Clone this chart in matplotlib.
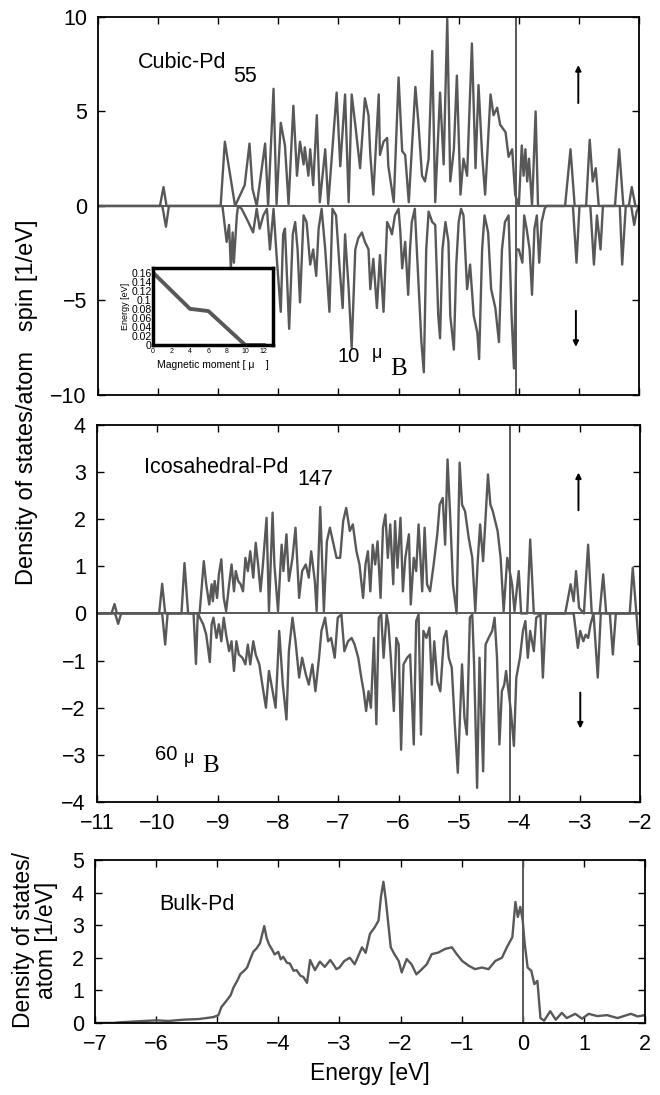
import matplotlib
matplotlib.use("Agg")
import matplotlib.pyplot as plt

plt.rcParams['font.family'] = ['Liberation Sans', 'DejaVu Sans']

# ---- cubic Pd55, spin up / spin down (energy in eV, DOS in 1/eV) ----
cub_up_e = [-11.0, -9.97, -9.91, -9.86, -8.96, -8.89, -8.81, -8.72, -8.56, -8.48, -8.43, -8.36,
            -8.22, -8.17, -8.08, -8.03, -7.96, -7.89, -7.83, -7.75, -7.69, -7.64, -7.58, -7.56,
            -7.50, -7.47, -7.42, -7.36, -7.31, -7.22, -7.17, -7.03, -6.97, -6.89, -6.83, -6.78,
            -6.72, -6.64, -6.56, -6.50, -6.47, -6.42, -6.33, -6.31, -6.25, -6.19, -6.17, -6.08,
            -6.00, -5.94, -5.89, -5.83, -5.72, -5.67, -5.61, -5.56, -5.50, -5.44, -5.39, -5.31,
            -5.25, -5.19, -5.14, -5.08, -5.03, -4.97, -4.92, -4.86, -4.78, -4.72, -4.67, -4.61,
            -4.56, -4.47, -4.42, -4.36, -4.31, -4.22, -4.17, -4.11, -4.06, -4.00, -3.95, -3.92,
            -3.89, -3.86, -3.83, -3.78, -3.76, -3.72, -3.68, -3.23, -3.14, -3.07, -2.88, -2.82,
            -2.77, -2.72, -2.67, -2.40, -2.33, -2.26, -2.17, -2.12, -2.06, -2.0]
cub_up_v = [0, 0, 1.0, 0, 0, 3.4, 1.8, 0, 1.1, 3.3, 0.9, 0,
            3.3, 0, 6.2, 0.1, 4.4, 3.2, 0.1, 5.3, 1.6, 3.4, 2.2, 3.1,
            1.6, 3.0, 1.1, 4.8, 0.2, 3.0, 0.1, 6.0, 2.1, 5.9, 0.2, 5.9,
            4.3, 2.0, 5.7, 4.8, 2.7, 0.6, 5.9, 2.7, 3.4, 3.6, 2.1, 0.2,
            6.8, 2.9, 2.7, 0.2, 6.3, 4.4, 1.6, 1.3, 2.5, 8.2, 0.2, 6.0,
            2.2, 9.9, 1.3, 3.0, 6.9, 0.6, 2.5, 1.6, 8.6, 2.0, 6.4, 2.7,
            0.6, 5.9, 4.8, 5.2, 4.3, 3.9, 2.6, 3.0, 0.6, 0.0, 3.2, 1.6,
            3.0, 1.3, 2.5, 0.0, 1.6, 5.0, 0.0, 0.0, 3.0, 0.0, 0.0, 3.5,
            1.3, 2.0, 0.0, 0.0, 3.0, 0.0, 0.0, 1.0, 0.0, 0.0]
cub_dn_e = [-11.0, -9.93, -9.87, -9.82, -8.93, -8.86, -8.82, -8.79, -8.76, -8.74, -8.69, -8.67,
            -8.61, -8.50, -8.42, -8.36, -8.31, -8.25, -8.19, -8.14, -8.08, -8.03, -7.96, -7.92,
            -7.89, -7.82, -7.76, -7.72, -7.68, -7.64, -7.58, -7.53, -7.47, -7.42, -7.37, -7.33,
            -7.28, -7.22, -7.15, -7.10, -7.04, -6.98, -6.93, -6.89, -6.83, -6.78, -6.72, -6.67,
            -6.61, -6.56, -6.50, -6.47, -6.42, -6.36, -6.31, -6.25, -6.19, -6.14, -6.11, -6.06,
            -6.00, -5.97, -5.94, -5.89, -5.84, -5.81, -5.78, -5.73, -5.67, -5.62, -5.58, -5.54,
            -5.50, -5.44, -5.39, -5.34, -5.31, -5.27, -5.22, -5.17, -5.14, -5.08, -5.04, -5.00,
            -4.96, -4.92, -4.86, -4.81, -4.75, -4.69, -4.66, -4.61, -4.57, -4.51, -4.46, -4.39,
            -4.33, -4.28, -4.23, -4.17, -4.12, -4.08, -4.04, -4.00, -3.94, -3.91, -3.87, -3.82,
            -3.78, -3.74, -3.70, -3.66, -3.62, -3.57, -3.54, -3.10, -3.04, -2.99, -2.81, -2.75,
            -2.70, -2.64, -2.60, -2.32, -2.28, -2.22, -2.13, -2.08, -2.04, -2.0]
cub_dn_v = [0, 0, -1.1, 0, 0, -1.9, -1.0, -3.3, -1.4, -3.0, -0.5, 0,
            -0.15, -0.85, -1.4, -0.15, -1.2, -0.5, -0.15, -2.3, -0.15, -2.6, -5.6, -1.5,
            -1.2, -6.5, -1.5, -0.85, -2.3, -5.1, -0.5, -0.85, -3.1, -2.3, -3.7, -1.2,
            -0.15, -2.3, -5.6, -0.15, -0.5, -3.3, -5.4, -1.5, -4.4, -7.5, -2.3, -1.7,
            -1.4, -1.9, -2.3, -4.4, -2.8, -5.4, -2.6, -5.6, -0.85, -1.2, -1.5, -0.5,
            -0.15, -1.4, -3.3, -1.9, -4.7, -2.3, -0.85, -0.15, -4.0, -7.2, -8.8, -2.3,
            -0.3, -0.85, -1.0, -5.8, -7.0, -2.3, -0.85, -1.9, -5.8, -7.6, -3.1, -0.85,
            -0.15, -0.5, -4.4, -3.1, -5.8, -6.7, -8.1, -2.3, -0.5, -1.4, -4.4, -5.4,
            -7.2, -2.3, -0.85, -0.5, -5.8, -8.6, -2.3, -2.3, -3.0, -0.5, -1.2, -2.3,
            -4.7, -1.2, -0.5, -3.0, -0.85, -0.15, 0, 0, -3.0, 0, 0, -3.1,
            -0.5, -2.3, 0, 0, -3.1, 0, 0, -1.0, -0.3, 0]

# ---- icosahedral Pd147 ----
ico_up_e = [-11.0, -10.76, -10.71, -10.67, -9.97, -9.92, -9.87, -9.60, -9.55, -9.49, -9.30, -9.23,
            -9.19, -9.14, -9.10, -9.08, -9.05, -9.01, -8.98, -8.94, -8.90, -8.86, -8.81, -8.77,
            -8.73, -8.70, -8.66, -8.62, -8.58, -8.54, -8.50, -8.46, -8.41, -8.37, -8.33, -8.29,
            -8.25, -8.19, -8.15, -8.09, -8.06, -8.00, -7.94, -7.91, -7.86, -7.82, -7.76, -7.71,
            -7.65, -7.60, -7.54, -7.49, -7.45, -7.39, -7.36, -7.30, -7.24, -7.19, -7.14, -7.09,
            -7.03, -6.97, -6.92, -6.87, -6.81, -6.76, -6.70, -6.65, -6.59, -6.55, -6.51, -6.47,
            -6.43, -6.39, -6.35, -6.30, -6.26, -6.22, -6.18, -6.14, -6.09, -6.06, -6.02, -5.97,
            -5.93, -5.89, -5.83, -5.80, -5.75, -5.71, -5.67, -5.61, -5.57, -5.53, -5.48, -5.42,
            -5.36, -5.32, -5.27, -5.23, -5.19, -5.14, -5.10, -5.04, -4.99, -4.95, -4.90, -4.84,
            -4.78, -4.73, -4.69, -4.65, -4.60, -4.56, -4.52, -4.48, -4.44, -4.40, -4.36, -4.31,
            -4.26, -4.20, -4.16, -4.12, -4.08, -4.01, -3.97, -3.87, -3.82, -3.76, -3.24, -3.15,
            -3.10, -3.06, -3.01, -2.93, -2.86, -2.80, -2.67, -2.61, -2.56, -2.17, -2.12, -2.06,
            -2.0]
ico_up_v = [0, 0, 0.20, 0, 0, 0.63, 0, 0, 1.07, 0, 0, 1.11,
            0.62, 0.19, 0.62, 0.26, 0.69, 0.33, 0.83, 1.15, 0.33, 0.05, 0.62, 1.04,
            0.47, 0.90, 0.69, 0.62, 0.47, 1.18, 0.90, 1.32, 0.76, 1.50, 1.04, 0.47,
            1.04, 2.03, 0.05, 2.14, 1.04, 0.05, 1.46, 0.90, 1.68, 0.69, 1.18, 1.82,
            0.33, 0.90, 1.04, 0.76, 1.32, 0.69, 0.05, 2.26, 0.05, 1.53, 1.82, 1.53,
            1.18, 1.18, 1.96, 2.24, 1.75, 1.89, 1.32, 1.04, 0.33, 1.04, 1.32, 0.47,
            1.46, 1.04, 1.53, 0.33, 1.82, 2.10, 1.18, 1.89, 0.62, 1.96, 0.97, 2.03,
            0.47, 1.18, 1.68, 0.19, 1.18, 0.90, 1.89, 0.47, 1.82, 0.62, 0.47, 1.04,
            1.68, 2.31, 2.45, 1.46, 3.27, 1.89, 0.62, 0.0, 3.20, 2.31, 2.17, 1.61,
            1.18, 0.05, 1.11, 1.89, 1.11, 2.03, 2.95, 2.31, 2.17, 1.96, 1.75, 1.18,
            0.05, 1.18, 0.90, 0.62, 0.05, 0.90, 0, 0, 1.57, 0, 0, 0.62,
            0.26, 0.90, 0.12, 0, 1.46, 0, 0, 0.83, 0, 0, 0.97, 0,
            0]
ico_dn_e = [-11.0, -10.70, -10.65, -10.60, -9.92, -9.87, -9.83, -9.40, -9.36, -9.33, -9.24, -9.19,
            -9.13, -9.10, -9.07, -9.02, -8.98, -8.94, -8.90, -8.86, -8.81, -8.77, -8.73, -8.69,
            -8.65, -8.59, -8.54, -8.50, -8.46, -8.41, -8.37, -8.31, -8.26, -8.20, -8.15, -8.09,
            -8.04, -7.98, -7.92, -7.86, -7.82, -7.76, -7.71, -7.65, -7.60, -7.54, -7.49, -7.43,
            -7.38, -7.32, -7.28, -7.22, -7.17, -7.12, -7.06, -7.01, -6.95, -6.90, -6.84, -6.78,
            -6.73, -6.67, -6.62, -6.58, -6.54, -6.50, -6.46, -6.41, -6.37, -6.33, -6.29, -6.25,
            -6.20, -6.17, -6.13, -6.08, -6.04, -6.00, -5.96, -5.92, -5.86, -5.81, -5.75, -5.71,
            -5.67, -5.63, -5.59, -5.54, -5.49, -5.45, -5.41, -5.36, -5.31, -5.25, -5.21, -5.17,
            -5.12, -5.07, -5.02, -4.98, -4.95, -4.91, -4.87, -4.82, -4.78, -4.75, -4.70, -4.66,
            -4.60, -4.56, -4.51, -4.45, -4.41, -4.37, -4.33, -4.29, -4.25, -4.22, -4.18, -4.14,
            -4.09, -4.05, -3.99, -3.94, -3.90, -3.86, -3.82, -3.76, -3.72, -3.65, -3.61, -3.56,
            -3.10, -3.03, -2.99, -2.94, -2.90, -2.86, -2.82, -2.77, -2.70, -2.65, -2.50, -2.45,
            -2.40, -2.06, -2.02, -2.0]
ico_dn_v = [0, 0, -0.22, 0, 0, -0.66, 0, 0, -1.07, 0, -0.23, -0.45,
            -1.03, -0.23, -0.09, -0.52, -0.23, -0.59, -0.09, -0.45, -0.80, -0.59, -1.22, -0.59,
            -0.87, -0.94, -1.08, -0.66, -1.08, -0.59, -0.87, -1.08, -1.51, -2.00, -1.22, -1.65,
            -2.00, -0.37, -1.51, -2.25, -0.80, -0.09, -0.59, -1.36, -0.94, -1.29, -1.51, -1.08,
            -1.65, -0.94, -0.37, -0.09, -0.59, -0.52, -0.94, -0.09, -0.02, -0.80, -0.59, -0.52,
            -0.66, -0.94, -1.36, -1.65, -2.07, -1.65, -2.00, -0.52, -2.35, -0.09, -0.02, -0.94,
            -0.02, -0.23, -0.94, -2.07, -0.52, -0.66, -2.89, -1.08, -0.94, -0.87, -2.78, -0.16,
            -0.02, -2.57, -0.37, -0.52, -0.30, -1.51, -0.59, -1.44, -1.65, -0.52, -0.37, -0.94,
            -1.15, -2.35, -3.38, -2.07, -1.08, -2.21, -2.57, -0.09, -0.02, -1.08, -3.70, -0.94,
            -3.35, -0.66, -0.52, -0.37, -0.09, -0.94, -2.78, -1.65, -1.51, -1.22, -1.65, -2.07,
            -2.81, -1.36, -0.94, -0.37, -0.16, -0.94, -0.37, -0.80, -0.09, -0.02, -1.36, 0,
            0, -0.73, -0.37, -0.59, -0.45, -0.52, -0.23, 0, -1.36, 0, 0, -0.87,
            0, 0, -0.66, -0.5]

# ---- bulk Pd ----
bulk_e = [-7.0, -6.7, -6.59, -6.3, -5.99, -5.8, -5.55, -5.3, -5.06, -4.98, -4.93, -4.84, -4.78,
          -4.73, -4.67, -4.62, -4.56, -4.51, -4.46, -4.41, -4.35, -4.30, -4.23, -4.19, -4.15,
          -4.11, -4.06, -4.00, -3.96, -3.92, -3.86, -3.81, -3.75, -3.70, -3.64, -3.59, -3.53,
          -3.48, -3.40, -3.32, -3.24, -3.15, -3.10, -3.05, -3.00, -2.92, -2.83, -2.75, -2.63,
          -2.57, -2.50, -2.42, -2.36, -2.32, -2.28, -2.24, -2.20, -2.16, -2.10, -2.03, -1.98,
          -1.90, -1.82, -1.74, -1.65, -1.57, -1.49, -1.38, -1.27, -1.16, -1.08, -0.99, -0.88,
          -0.78, -0.67, -0.56, -0.45, -0.34, -0.26, -0.17, -0.12, -0.08, -0.04, 0.00, 0.03,
          0.08, 0.14, 0.19, 0.24, 0.29, 0.35, 0.45, 0.54, 0.64, 0.72, 0.86, 0.97, 1.08, 1.22,
          1.38, 1.55, 1.77, 1.88, 2.0]
bulk_v = [0.0, 0.0, 0.02, 0.05, 0.08, 0.06, 0.10, 0.12, 0.18, 0.24, 0.49, 0.70, 0.85,
          1.10, 1.30, 1.50, 1.60, 1.70, 1.95, 2.18, 2.30, 2.44, 2.97, 2.60, 2.40,
          2.28, 2.10, 2.18, 1.95, 2.03, 1.85, 1.82, 1.60, 1.62, 1.45, 1.41, 1.23,
          1.93, 1.62, 1.88, 1.72, 1.93, 1.80, 1.65, 1.70, 1.90, 2.00, 1.80, 2.32,
          2.15, 2.73, 2.94, 3.14, 3.87, 4.33, 3.76, 3.04, 2.32, 2.11, 1.90, 1.55,
          1.96, 1.80, 1.49, 1.65, 1.80, 2.11, 2.16, 2.27, 2.32, 2.11, 1.90, 1.75,
          1.65, 1.70, 1.65, 1.90, 2.00, 2.32, 2.63, 3.71, 3.25, 3.56, 3.14, 2.47,
          1.70, 1.60, 1.19, 1.29, 0.15, 0.07, 0.36, 0.10, 0.31, 0.15, 0.28, 0.13, 0.28, 0.21,
          0.24, 0.15, 0.28, 0.20, 0.24]

# ---- inset: energy vs magnetic moment ----
moment = [0, 4, 6, 10, 12]
e_moment = [0.16, 0.08, 0.075, 0.0, 0.0]

fermi = [-4.05, -4.16, 0.0]
gray = '#585858'

fig = plt.figure(figsize=(6.6, 10.95), dpi=100)
ax1 = fig.add_axes([0.1485, 0.6393, 0.8197, 0.3452])
ax2 = fig.add_axes([0.1470, 0.2676, 0.8227, 0.3443])
ax3 = fig.add_axes([0.1439, 0.0658, 0.8333, 0.1489])

for ax in (ax1, ax2, ax3):
    ax.tick_params(direction='in', top=True, right=True, length=5, width=1,
                   labelsize=15.5, pad=8)
    for s in ax.spines.values():
        s.set_linewidth(1.3)

ax1.plot(cub_up_e, cub_up_v, color=gray, lw=1.7)
ax1.plot(cub_dn_e, cub_dn_v, color=gray, lw=1.7)
ax1.axhline(0, color=gray, lw=1.4)
ax1.axvline(fermi[0], color=gray, lw=1.4)
ax1.set_xlim(-11, -2)
ax1.set_ylim(-10, 10)
ax1.set_xticks(range(-11, -1))
ax1.set_yticks([-10, -5, 0, 5, 10])
ax1.set_xticklabels([])

ax2.plot(ico_up_e, ico_up_v, color=gray, lw=1.7)
ax2.plot(ico_dn_e, ico_dn_v, color=gray, lw=1.7)
ax2.axhline(0, color=gray, lw=1.4)
ax2.axvline(fermi[1], color=gray, lw=1.4)
ax2.set_xlim(-11, -2)
ax2.set_ylim(-4, 4)
ax2.set_xticks(range(-11, -1))
ax2.set_yticks(range(-4, 5))

ax3.plot(bulk_e, bulk_v, color=gray, lw=1.7)
ax3.axvline(fermi[2], color=gray, lw=1.4)
ax3.set_xlim(-7, 2)
ax3.set_ylim(0, 5)
ax3.set_xticks(range(-7, 3))
ax3.set_yticks(range(0, 6))

# labels in panels
ax1.text(-10.33, 7.32, 'Cubic-Pd', fontsize=15.5, va='baseline')
ax1.text(-8.75, 6.58, '55', fontsize=15.5, va='baseline')
ax1.text(-7.01, -8.25, '10', fontsize=14.5, va='baseline')
ax1.text(-6.44, -8.06, 'μ', fontsize=13, va='baseline')
ax1.text(-6.14, -8.94, 'B', fontsize=18, va='baseline', family='Liberation Serif')
ax2.text(-10.22, 2.99, 'Icosahedral-Pd', fontsize=15.5, va='baseline')
ax2.text(-7.68, 2.73, '147', fontsize=15.5, va='baseline')
ax2.text(-10.04, -3.11, '60', fontsize=14.5, va='baseline')
ax2.text(-9.56, -3.18, 'μ', fontsize=13, va='baseline')
ax2.text(-9.26, -3.37, 'B', fontsize=18, va='baseline', family='Liberation Serif')
ax3.text(-5.94, 3.47, 'Bulk-Pd', fontsize=15.5, va='baseline')

arr = dict(arrowstyle='-|>', color='black', lw=1.4, mutation_scale=8)
ax1.annotate('', xy=(-3.01, 7.6), xytext=(-3.01, 5.3), arrowprops=arr)
ax1.annotate('', xy=(-3.05, -7.6), xytext=(-3.05, -5.4), arrowprops=arr)
ax2.annotate('', xy=(-3.02, 3.05), xytext=(-3.02, 2.13), arrowprops=arr)
ax2.annotate('', xy=(-2.99, -2.5), xytext=(-2.99, -1.62), arrowprops=arr)

fig.text(0.041, 0.633, 'Density of states/atom   spin [1/eV]', rotation=90,
         ha='center', va='center', fontsize=17)
fig.text(0.053, 0.1416, 'Density of states/\natom [1/eV]', rotation=90,
         ha='center', va='center', fontsize=16.5, multialignment='center',
         linespacing=1.0)
ax3.set_xlabel('Energy [eV]', fontsize=16.5, labelpad=5)

# inset
axi = fig.add_axes([0.2318, 0.6849, 0.1818, 0.0703])
axi.plot(moment, e_moment, color=gray, lw=2.8)
axi.set_xlim(0, 13)
axi.set_ylim(0, 0.17)
axi.set_xticks([0, 2, 4, 6, 8, 10, 12])
axi.set_yticks([0, 0.02, 0.04, 0.06, 0.08, 0.1, 0.12, 0.14, 0.16])
axi.set_yticklabels(['0', '0.02', '0.04', '0.06', '0.08', '0.1', '0.12', '0.14', '0.16'])
axi.tick_params(axis='y', length=0, labelsize=7.5, pad=1)
axi.tick_params(axis='x', length=0, labelsize=5, pad=2)
axi.set_ylabel('Energy [eV]', fontsize=6.5, labelpad=1)
axi.set_xlabel('Magnetic moment [ μ    ]', fontsize=7.5, labelpad=4)
for s in axi.spines.values():
    s.set_linewidth(2.5)

fig.savefig('out.png', dpi=100)
